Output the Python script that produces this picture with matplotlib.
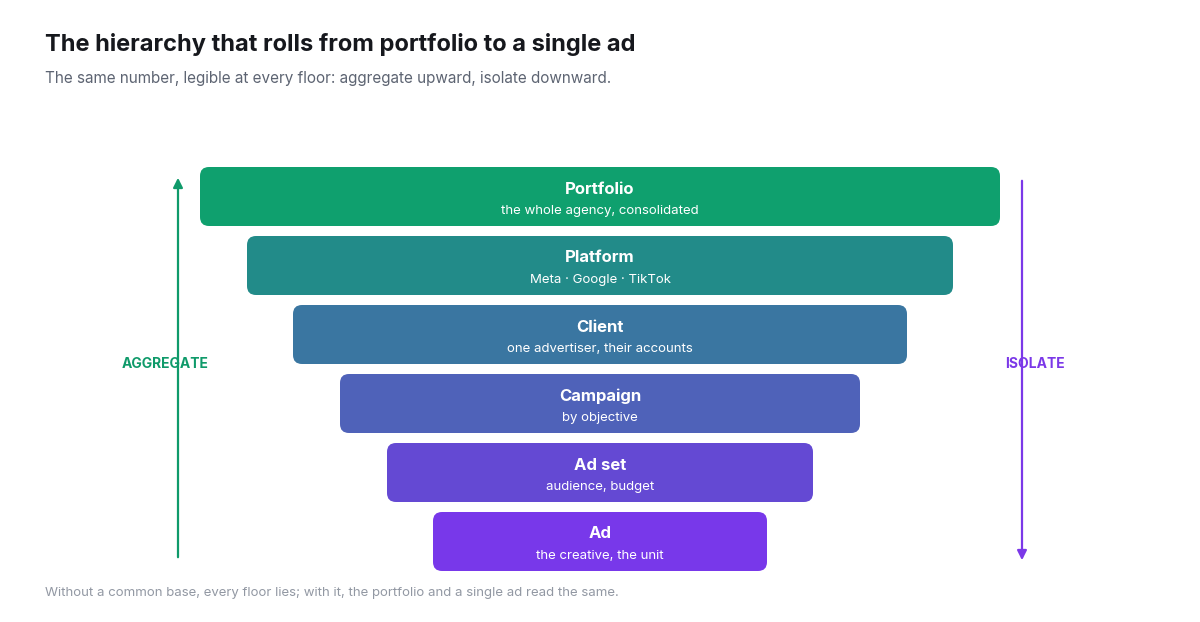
import matplotlib
matplotlib.use("Agg")
import matplotlib.pyplot as plt
from matplotlib.patches import FancyBboxPatch, FancyArrowPatch

plt.rcParams["font.family"] = ["Inter", "DejaVu Sans"]

levels = ["Portfolio", "Platform", "Client", "Campaign", "Ad set", "Ad"]
notes = ["the whole agency, consolidated", "Meta \u00b7 Google \u00b7 TikTok",
         "one advertiser, their accounts", "by objective",
         "audience, budget", "the creative, the unit"]
widths = [800, 706, 614, 520, 426, 334]
colors = ["#0fa06e", "#228b89", "#3a76a1", "#4f62b9", "#6449d3", "#7838ea"]

fig = plt.figure(figsize=(12, 6.22), dpi=100)
ax = fig.add_axes([0, 0, 1, 1])
ax.set_xlim(0, 1200)
ax.set_ylim(622, 0)
ax.axis("off")

top, h, step, cx = 167, 59, 69, 600
for i, (name, note, w, c) in enumerate(zip(levels, notes, widths, colors)):
    y = top + i * step
    ax.add_patch(FancyBboxPatch((cx - w / 2, y), w, h,
                                boxstyle="round,pad=0,rounding_size=9",
                                fc=c, ec="none", mutation_aspect=1))
    ax.text(cx, y + 22, name, ha="center", va="center", color="white",
            fontsize=12, fontweight="bold")
    ax.text(cx, y + 44, note, ha="center", va="center", color="white",
            fontsize=9.5)

green, purple = "#0f9a6a", "#7b38e8"
ax.add_patch(FancyArrowPatch((178, 560), (178, 175), arrowstyle="-|>",
                             mutation_scale=14, color=green, lw=1.6))
ax.add_patch(FancyArrowPatch((1022, 178), (1022, 563), arrowstyle="-|>",
                             mutation_scale=14, color=purple, lw=1.6))
ax.text(165, 364, "AGGREGATE", ha="center", va="center", color=green,
        fontsize=10, fontweight="bold")
ax.text(1035, 364, "ISOLATE", ha="center", va="center", color=purple,
        fontsize=10, fontweight="bold")

ax.text(45, 45, "The hierarchy that rolls from portfolio to a single ad",
        ha="left", va="center", fontsize=17, fontweight="bold", color="#16181d")
ax.text(45, 78, "The same number, legible at every floor: aggregate upward, isolate downward.",
        ha="left", va="center", fontsize=11, color="#5d6472")
ax.text(45, 593, "Without a common base, every floor lies; with it, the portfolio and a single ad read the same.",
        ha="left", va="center", fontsize=9.5, color="#9298a3")

fig.savefig("out.png", dpi=100)
